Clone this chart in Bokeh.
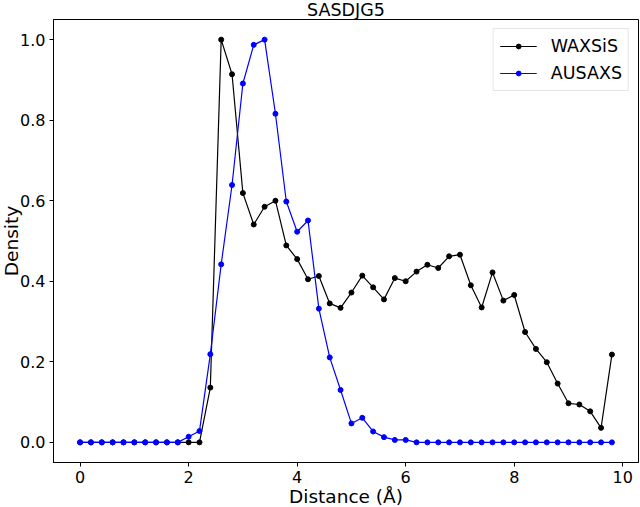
from bokeh.plotting import figure
from bokeh.models import Range1d, FixedTicker
from bokeh.embed import file_html
from bokeh.resources import INLINE

distance = [0.0, 0.2, 0.4, 0.6, 0.8, 1.0, 1.2, 1.4, 1.6, 1.8,
            2.0, 2.2, 2.4, 2.6, 2.8, 3.0, 3.2, 3.4, 3.6, 3.8,
            4.0, 4.2, 4.4, 4.6, 4.8, 5.0, 5.2, 5.4, 5.6, 5.8,
            6.0, 6.2, 6.4, 6.6, 6.8, 7.0, 7.2, 7.4, 7.6, 7.8,
            8.0, 8.2, 8.4, 8.6, 8.8, 9.0, 9.2, 9.4, 9.6, 9.8]

waxsis = [0, 0, 0, 0, 0, 0, 0, 0, 0, 0,
          0, 0, 0.136, 1.0, 0.914, 0.619, 0.541, 0.585, 0.600, 0.489,
          0.455, 0.405, 0.413, 0.345, 0.334, 0.372, 0.414, 0.385, 0.355, 0.408,
          0.400, 0.424, 0.441, 0.433, 0.462, 0.466, 0.390, 0.335, 0.422, 0.352,
          0.366, 0.274, 0.232, 0.199, 0.146, 0.097, 0.094, 0.077, 0.036, 0.218]

ausaxs = [0, 0, 0, 0, 0, 0, 0, 0, 0, 0,
          0.014, 0.028, 0.219, 0.442, 0.639, 0.891, 0.987, 1.0, 0.816, 0.598,
          0.523, 0.551, 0.332, 0.211, 0.130, 0.047, 0.061, 0.027, 0.013, 0.006,
          0.006, 0, 0, 0, 0, 0, 0, 0, 0, 0,
          0, 0, 0, 0, 0, 0, 0, 0, 0, 0]

x_ticks = [0, 2, 4, 6, 8, 10]
y_ticks = [0.0, 0.2, 0.4, 0.6, 0.8, 1.0]

FONT = "DejaVu Sans"

p = figure(width=643, height=516, output_backend="svg", toolbar_location=None,
           title="SASDJG5",
           x_range=Range1d(-0.49, 10.29), y_range=Range1d(-0.05, 1.05),
           min_border_left=56, min_border_right=2, min_border_top=23, min_border_bottom=50)
p.styles = {"margin-left": "-3px", "margin-top": "-4px", "margin-bottom": "-5px"}

p.title.align = "center"
p.title.text_font = FONT
p.title.text_font_size = "17.5px"
p.title.text_font_style = "normal"
p.title.text_color = "black"
p.title.standoff = -1

p.xgrid.visible = False
p.ygrid.visible = False
p.outline_line_color = "black"
p.outline_line_width = 1
p.outline_line_alpha = 1
p.background_fill_color = "white"
p.border_fill_color = "white"

for ax in (p.xaxis[0], p.yaxis[0]):
    ax.axis_line_color = "black"
    ax.major_tick_line_color = "black"
    ax.major_tick_out = 4
    ax.major_tick_in = 0
    ax.minor_tick_line_color = None
    ax.major_label_text_font = FONT
    ax.major_label_text_font_size = "16px"
    ax.major_label_text_color = "black"
    ax.axis_label_text_font = FONT
    ax.axis_label_text_font_size = "18.5px"
    ax.axis_label_text_font_style = "normal"
    ax.axis_label_text_color = "black"

p.xaxis.major_label_standoff = 4
p.xaxis.axis_label_standoff = 0
p.yaxis.major_label_standoff = 4
p.yaxis.axis_label_standoff = -5

p.xaxis.ticker = FixedTicker(ticks=x_ticks)
p.yaxis.ticker = FixedTicker(ticks=y_ticks)
p.yaxis.major_label_overrides = {v: f"{v:.1f}" for v in y_ticks}
p.xaxis.axis_label = "Distance (Å)"
p.yaxis.axis_label = "Density"

p.line(distance, waxsis, line_color="black", line_width=1.2, legend_label="WAXSiS")
p.scatter(distance, waxsis, size=5, fill_color="black", line_color="black", legend_label="WAXSiS")
p.line(distance, ausaxs, line_color="blue", line_width=1.2, legend_label="AUSAXS")
p.scatter(distance, ausaxs, size=5, fill_color="blue", line_color="blue", legend_label="AUSAXS")

lg = p.legend[0]
lg.location = "top_right"
lg.margin = 9
lg.padding = 6
lg.spacing = 5
lg.glyph_width = 37
lg.glyph_height = 12
lg.label_height = 22
lg.label_standoff = 14
lg.label_text_font = FONT
lg.label_text_font_size = "17.5px"
lg.label_text_color = "black"
lg.border_line_color = "#cccccc"
lg.border_line_width = 1
lg.background_fill_color = "white"
lg.background_fill_alpha = 0.8

open("out.html", "w").write(file_html(p, INLINE))
